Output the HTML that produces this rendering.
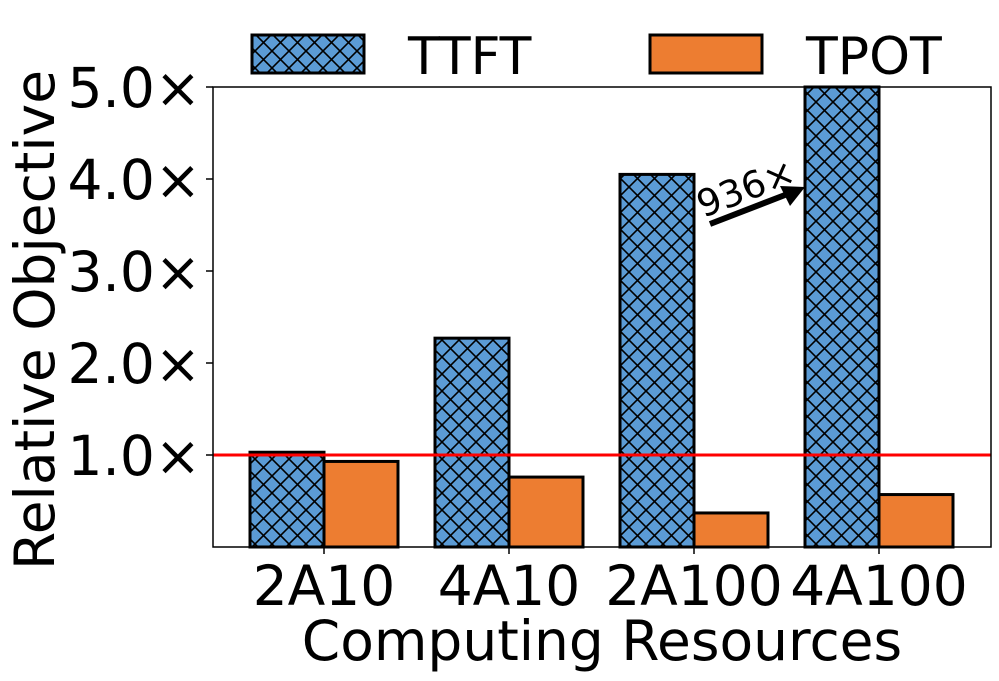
<!DOCTYPE html>
<html><head><meta charset="utf-8"><style>body{margin:0;background:#fff;position:relative}svg{display:block;font-family:"DejaVu Sans","Liberation Sans",sans-serif}</style></head>
<body>
<svg id="chart" width="999" height="681">
<defs>
<pattern id="hatch" width="17" height="17" patternUnits="userSpaceOnUse">
<rect width="17" height="17" fill="#5b9bd5"/>
<path d="M0,0L17,17M17,0L0,17M-2,15L2,19M15,-2L19,2M15,19L19,15M-2,2L2,-2" stroke="#000" stroke-width="1.6"/>
</pattern>
</defs>
<g id="plot"></g>
</svg>
<script>
const categories=["2A10","4A10","2A100","4A100"];
const ttft=[1.03,2.27,4.05,5.0];
const tpot=[0.93,0.76,0.37,0.57];
const yTicks=[1,2,3,4,5];
const yTickLabels=["1.0×","2.0×","3.0×","4.0×","5.0×"];
const L=213,R=991,T=87,B=547,yMax=5;
const y=v=>B-(v/yMax)*(B-T);
const xc=i=>324+i*185;
const bw=74;
const ns="http://www.w3.org/2000/svg";
const g=document.getElementById('plot');
function mk(tag,attrs,parent){const e=document.createElementNS(ns,tag);for(const k in attrs)e.setAttribute(k,attrs[k]);(parent||g).appendChild(e);return e;}
categories.forEach((c,i)=>{
  const a=mk('rect',{x:xc(i)-bw,y:y(ttft[i]),width:bw,height:B-y(ttft[i]),fill:'url(#hatch)',stroke:'#000','stroke-width':3});
  
  
  const b=mk('rect',{x:xc(i),y:y(tpot[i]),width:bw,height:B-y(tpot[i]),fill:'#ed7d31',stroke:'#000','stroke-width':3});
  
  
  const tk=mk('line',{x1:xc(i),x2:xc(i),y1:B,y2:B+7,stroke:'#000','stroke-width':1.5});
  
  
  const t=mk('text',{x:xc(i),y:B+58,'font-size':55,'text-anchor':'middle'});
  t.textContent=c;
  
  
});
yTicks.forEach((v,i)=>{
  const tk=mk('line',{x1:L-7,x2:L,y1:y(v),y2:y(v),stroke:'#000','stroke-width':1.5});
  
  
  const t=mk('text',{x:L-12,y:y(v)+20,'font-size':55,'text-anchor':'end'});
  t.textContent=yTickLabels[i];
  
  
});
const ref=mk('line',{x1:L,x2:R,y1:y(1),y2:y(1),stroke:'#ff0000','stroke-width':3});


const fr=mk('rect',{x:L,y:T,width:R-L,height:B-T,fill:'none',stroke:'#000','stroke-width':1.5});


</script>
<svg style="position:absolute;left:0;top:0" width="999" height="681">
<g>
<line x1="710" y1="224" x2="785" y2="195" stroke="#000" stroke-width="6"/>
<polygon points="805,187 780,186 790,206" fill="#000"/>
<text x="0" y="0" font-size="37" transform="translate(703,218) rotate(-21)">936×</text>
</g>
<text x="54" y="320" font-size="55" text-anchor="middle" transform="rotate(-90 54 320)">Relative Objective</text>
<text x="602" y="660" font-size="55" text-anchor="middle">Computing Resources</text>
<g>
<rect x="252" y="35" width="112" height="38" fill="url(#hatch)" stroke="#000" stroke-width="3"/>
<text x="408" y="74" font-size="52">TTFT</text>
</g>
<g>
<rect x="650" y="35" width="112" height="38" fill="#ed7d31" stroke="#000" stroke-width="3"/>
<text x="806" y="74" font-size="52">TPOT</text>
</g>
</svg>
</body></html>
